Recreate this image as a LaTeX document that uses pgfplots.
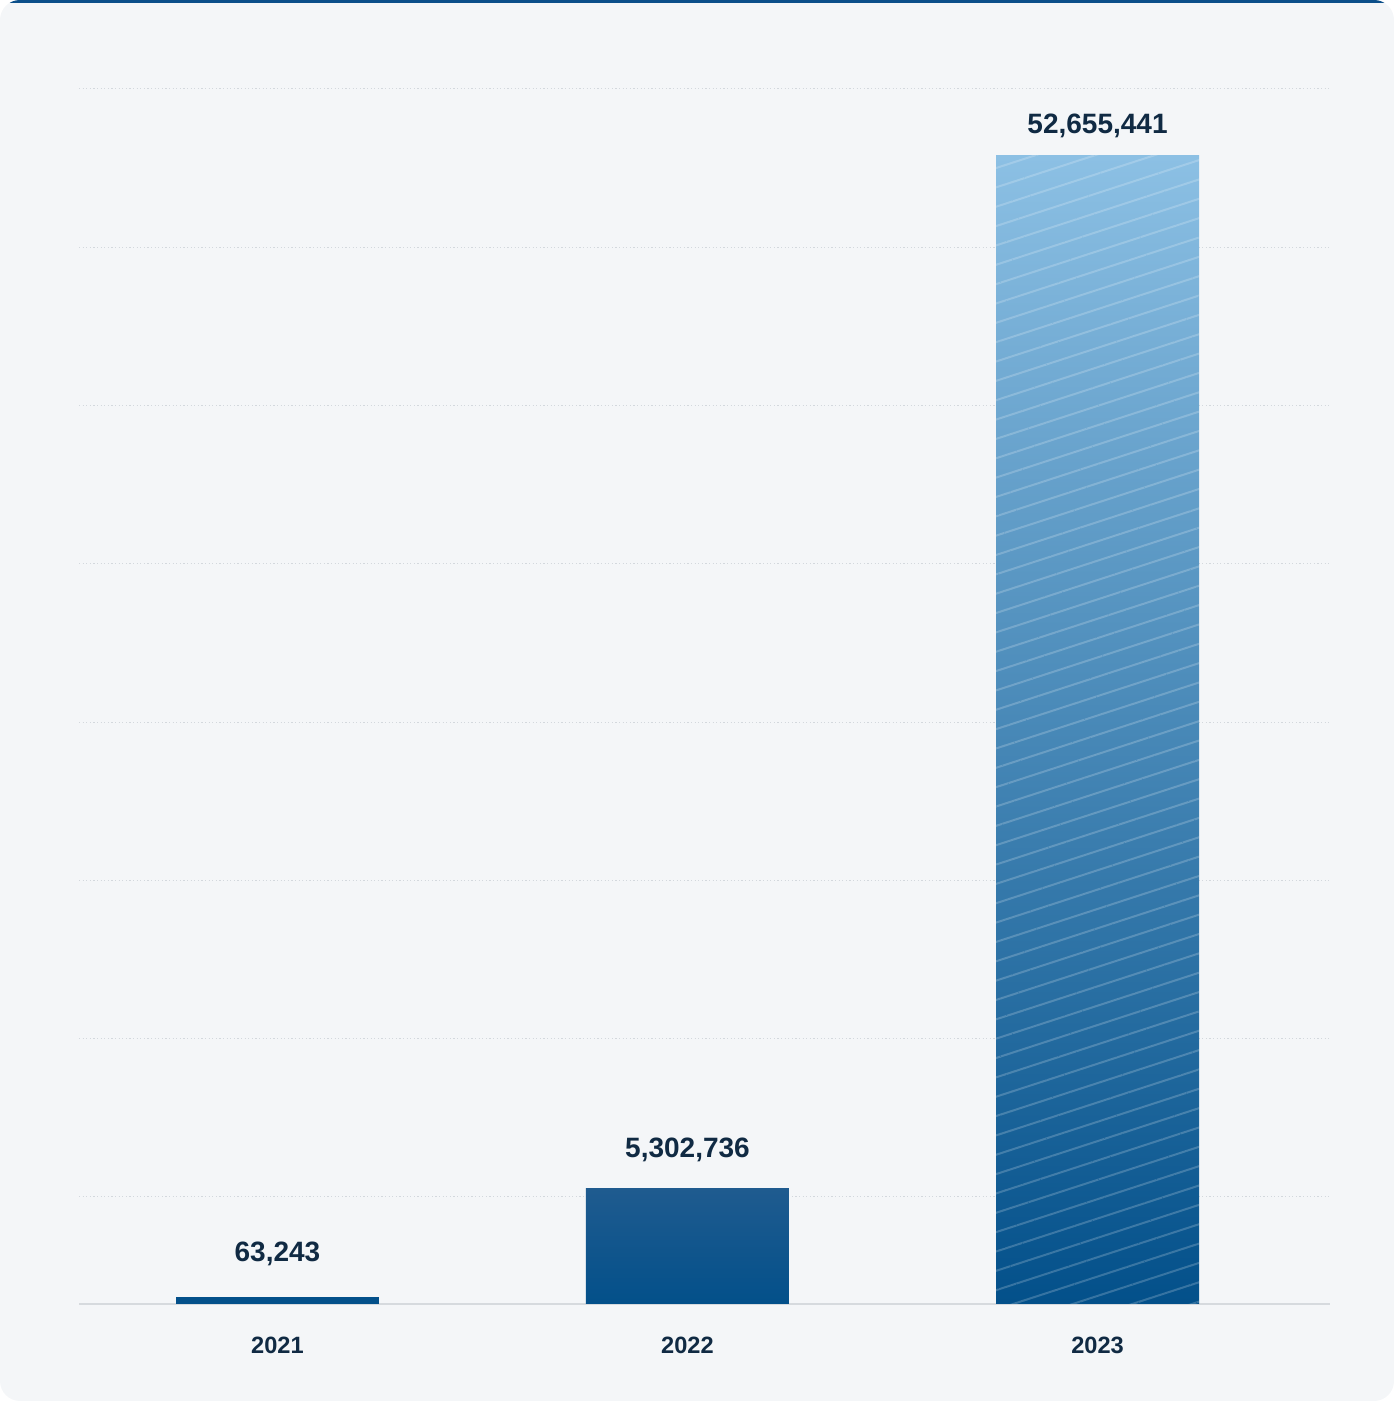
\documentclass[border=0pt]{standalone}
\usepackage{pgfplots}
\pgfplotsset{compat=1.18}
\usetikzlibrary{patterns.meta}
\usepackage{fontspec}
\setmainfont{Liberation Sans}
\definecolor{cardbg}{HTML}{F4F6F8}
\definecolor{topblue}{HTML}{0B4F8A}
\definecolor{navy}{HTML}{102A43}
\definecolor{barblue}{HTML}{03508A}
\definecolor{bartwo}{HTML}{1F5B8F}
\definecolor{barthree}{HTML}{8CC0E4}
\definecolor{gridc}{HTML}{D3D8DD}
\definecolor{basec}{HTML}{D6DADE}
\begin{document}
\begin{tikzpicture}
\useasboundingbox (0,0) rectangle (697pt,700.5pt);
\begin{scope}
\clip[rounded corners=10pt] (0,0) rectangle (697pt,700.5pt);
\fill[cardbg] (0,0) rectangle (697pt,700.5pt);
\fill[topblue] (0,699pt) rectangle (697pt,701pt);
\end{scope}
\begin{axis}[
  at={(39.5pt,48.5pt)}, anchor=south west,
  scale only axis, width=625.5pt, height=607.5pt,
  xmin=-0.484, xmax=2.567, ymin=0, ymax=55728405,
  axis x line*=bottom, axis y line*=left,
  y axis line style={draw=none},
  x axis line style={draw=basec, line width=1pt, -},
  xtick={0,1,2}, xticklabels={2021,2022,2023},
  xtick style={draw=none},
  xticklabel style={font=\bfseries\fontsize{11.8}{14}\selectfont, text=navy, anchor=base, yshift=-24.65pt},
  ytick={4908000,12168000,19428000,26688000,33948000,41208000,48468000,55728405},
  yticklabels={}, scaled y ticks=false, ytick style={draw=none},
  ymajorgrids, grid style={gridc, line width=0.5pt, dash pattern=on 0.6pt off 1.2pt},
  clip mode=individual,
]
% 2021
\addplot[ybar, bar shift=0pt, bar width=95.9pt, fill=barblue, draw=barblue, line width=5.6pt,
  nodes near coords={63,243},
  every node near coord/.style={anchor=base, yshift=20.6pt, font=\bfseries\fontsize{14}{16}\selectfont, text=navy}]
  coordinates {(0,63243)};
% 2022
\addplot[ybar, bar shift=0pt, bar width=101.5pt, draw=none, top color=bartwo, bottom color=barblue,
  nodes near coords={5,302,736},
  every node near coord/.style={anchor=base, yshift=15.5pt, font=\bfseries\fontsize{14}{16}\selectfont, text=navy}]
  coordinates {(1,5302736)};
% 2023
\addplot[ybar, bar shift=0pt, bar width=101.5pt, draw=none, top color=barthree, bottom color=barblue,
  nodes near coords={52,655,441},
  every node near coord/.style={anchor=base, yshift=11.25pt, font=\bfseries\fontsize{14}{16}\selectfont, text=navy}]
  coordinates {(2,52655441)};
\addplot[ybar, bar shift=0pt, bar width=101.5pt, draw=none, opacity=0.2,
  pattern={Lines[angle=18,distance=9.2pt,line width=1pt]}, pattern color=white]
  coordinates {(2,52655441)};
\end{axis}
\end{tikzpicture}
\end{document}
